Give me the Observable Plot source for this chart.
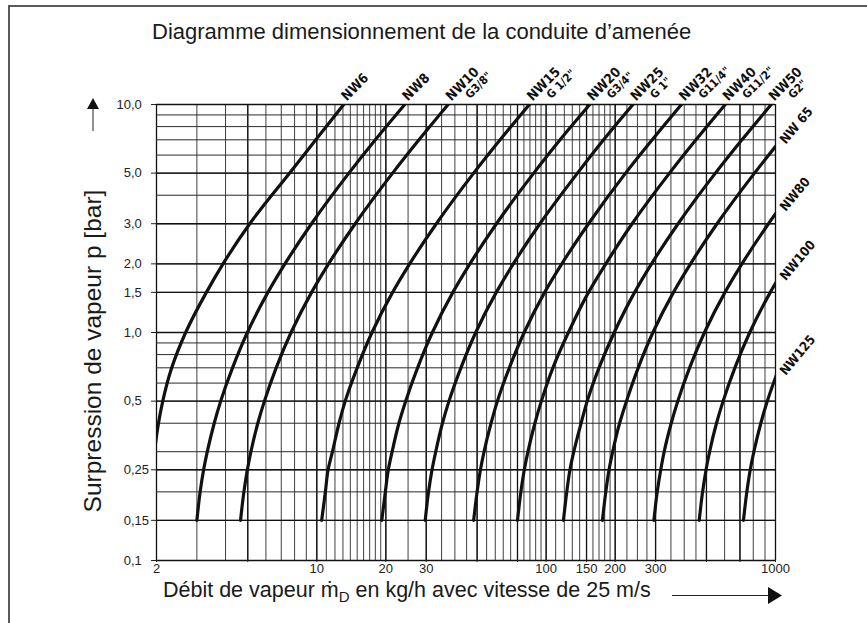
<!DOCTYPE html>
<html>
<head>
<meta charset="utf-8">
<script src="https://cdn.jsdelivr.net/npm/d3@7"></script>
<script src="https://cdn.jsdelivr.net/npm/@observablehq/plot@0.6"></script>
<style>
  html, body { margin: 0; padding: 0; background: #fff; }
  #wrap { position: relative; width: 867px; height: 623px; overflow: hidden;
          font-family: "Liberation Sans", Arial, Helvetica, sans-serif; color: #1a1a1a; }
  #border { position: absolute; left: 8px; top: 5px; width: 900px; height: 700px;
            border-left: 2px solid #5a5a5a; border-top: 2px solid #5a5a5a; }
  #chart { position: absolute; left: 0; top: 0; }
  #notes { position: absolute; left: 0; top: 0; pointer-events: none; }
  #notes text { font-family: "Liberation Sans", Arial, Helvetica, sans-serif; fill: #1a1a1a; }
</style>
</head>
<body>
<div id="wrap">
  <div id="border"></div>
  <div id="chart"></div>
  <svg id="notes" width="867" height="623">
    <text x="152" y="39" font-size="22">Diagramme dimensionnement de la conduite d’amenée</text>
    <text transform="translate(101,351) rotate(-90)" text-anchor="middle" font-size="24.5">Surpression de vapeur p [bar]</text>
    <text x="163" y="597" font-size="21.5">Débit de vapeur ṁ<tspan font-size="15" dy="5">D</tspan><tspan dy="-5"> en kg/h avec vitesse de 25 m/s</tspan></text>
    <line x1="93" y1="108" x2="93" y2="131" stroke="#222" stroke-width="1"/>
    <polygon points="87,109 93,98 99,109" fill="#111"/>
    <line x1="672" y1="595.5" x2="770" y2="595.5" stroke="#222" stroke-width="1.2"/>
    <polygon points="768,587 782,595.5 768,604" fill="#111"/>
  </svg>
</div>
<script>
// Pressure levels (bar, gauge) at which each pipe curve is sampled
const pressureLevels = [0.15, 0.2, 0.25, 0.3, 0.4, 0.5, 0.7, 1, 1.5, 2, 3, 5, 7, 10];

// Steam flow (kg/h) at each pressure level, per nominal width
const flowNW6   = [1.833, 1.876, 1.918, 1.96, 2.04, 2.13, 2.33, 2.68, 3.3, 3.9, 5.1, 7.6, 9.9, 13.1];
const flowNW8   = [3.0, 3.1, 3.21, 3.33, 3.57, 3.81, 4.29, 4.98, 6.12, 7.26, 9.48, 13.8, 18.0, 24.2];
const flowNW10  = [4.65, 4.81, 4.98, 5.16, 5.53, 5.91, 6.65, 7.72, 9.49, 11.25, 14.7, 21.4, 27.9, 37.4];
const flowNW15  = [10.5, 10.9, 11.2, 11.7, 12.5, 13.3, 15.0, 17.4, 21.4, 25.4, 33.2, 48.3, 63.0, 84.5];
const flowNW20  = [19.2, 19.9, 20.5, 21.3, 22.8, 24.4, 27.5, 31.9, 39.2, 46.5, 60.7, 88.3, 115, 155];
const flowNW25  = [29.7, 30.7, 31.8, 33.0, 35.3, 37.7, 42.5, 49.3, 60.6, 71.9, 93.9, 137, 178, 239];
const flowNW32  = [48.3, 50.0, 51.7, 53.6, 57.5, 61.3, 69.1, 80.2, 98.5, 117, 153, 222, 290, 389];
const flowNW40  = [75, 77.6, 80.3, 83.3, 89.3, 95.3, 107, 125, 153, 182, 237, 345, 450, 604];
const flowNW50  = [119, 123, 127, 132, 142, 151, 170, 198, 243, 288, 376, 547, 714, 958];
const flowNW65  = [176, 182, 188, 195, 209, 224, 252, 292, 359, 426, 556, 810, 1056, 1417];
const flowNW80  = [295, 305, 316, 327, 351, 375, 422, 490, 602, 714, 932, 1357, 1770, 2375];
const flowNW100 = [465, 481, 498, 516, 553, 591, 665, 772, 949, 1125, 1469, 2139, 2790, 3743];
const flowNW125 = [725, 750, 776, 805, 863, 921, 1037, 1204, 1479, 1755, 2291, 3335, 4350, 5836];

const sizeNames = ["NW6", "NW8", "NW10", "NW15", "NW20", "NW25", "NW32", "NW40", "NW50",
                   "NW 65", "NW80", "NW100", "NW125"];
const sizeFlows = [flowNW6, flowNW8, flowNW10, flowNW15, flowNW20, flowNW25, flowNW32,
                   flowNW40, flowNW50, flowNW65, flowNW80, flowNW100, flowNW125];

// Thread sizes written under the nominal widths that end on the top edge
const topSizes   = ["NW6", "NW8", "NW10", "NW15", "NW20", "NW25", "NW32", "NW40", "NW50"];
const topThreads = ["", "", "G3/8\"", "G 1/2\"", "G3/4\"", "G 1\"", "G11/4\"", "G11/2\"", "G2\""];

// Widths leaving through the right edge, and the pressure where they leave
const sideSizes = ["NW 65", "NW80", "NW100", "NW125"];
const sideExitPressure = [6.5, 3.3, 1.64, 0.63];

// Axis ticks and grid
const xTicks = [2, 5, 10, 20, 30, 50, 75, 100, 150, 200, 300, 500, 700, 1000];
const yTicks = [0.1, 0.15, 0.25, 0.5, 1, 1.5, 2, 3, 5, 10];
const yTickLabels = ["0,1", "0,15", "0,25", "0,5", "1,0", "1,5", "2,0", "3,0", "5,0", "10,0"];
const xGrid = [2, 3, 4, 5, 6, 7, 8, 9, 10, 11, 12, 13, 14, 15, 16, 17, 18, 19, 20, 25, 30, 35, 40, 45,
               50, 55, 60, 65, 70, 75, 80, 85, 90, 95, 100, 110, 120, 130, 140, 150, 160, 170, 180, 190,
               200, 225, 250, 275, 300, 350, 400, 450, 500, 600, 700, 800, 900, 1000];
const yGrid = [0.1, 0.15, 0.2, 0.25, 0.3, 0.4, 0.5, 0.6, 0.7, 0.8, 0.9, 1, 1.5, 2, 3, 4, 5, 6, 7, 8, 9, 10];

// Long-format rows for the line mark
const rows = sizeNames.flatMap((name, i) =>
  pressureLevels.map((p, j) => ({size: name, p, flow: sizeFlows[i][j]})));

const topLabelRows = topSizes.map((name, i) => ({
  name, thread: topThreads[i], flow: sizeFlows[sizeNames.indexOf(name)].at(-1), p: 10
}));
const sideLabelRows = sideSizes.map((name, i) => ({name, flow: 1000, p: sideExitPressure[i]}));

// Pressure tick labels are aligned on their decimal comma
const yTickRows = yTicks.map((p, i) => {
  const [whole, frac] = yTickLabels[i].split(",");
  return {p, whole: whole + ",", frac};
});

const labelFont = "'Liberation Sans Narrow', 'DejaVu Sans Condensed', 'Arial Narrow', sans-serif";

const chart = Plot.plot({
  width: 867,
  height: 623,
  marginLeft: 156,
  marginRight: 92,
  marginTop: 104,
  marginBottom: 63,
  x: {type: "log", domain: [2, 1000]},
  y: {type: "log", domain: [0.1, 10]},
  style: {fontFamily: "'Liberation Sans', Arial, sans-serif", fontSize: "13px", color: "#222",
          background: "transparent", overflow: "visible"},
  marks: [
    Plot.ruleX(xGrid, {stroke: "#2a2a2a", strokeWidth: 0.9}),
    Plot.ruleX(xTicks, {stroke: "#111", strokeWidth: 1.3}),
    Plot.ruleY(yGrid, {stroke: "#2a2a2a", strokeWidth: 1}),
    Plot.ruleY(yTicks, {stroke: "#111", strokeWidth: 1.4}),
    Plot.axisX({ticks: xTicks, tickFormat: d => String(d), tickSize: 2, tickPadding: 1,
                label: null, fontSize: 13}),
    Plot.axisY({ticks: yTicks, tickFormat: () => "", tickSize: 5, label: null}),
    Plot.text(yTickRows, {y: "p", text: "whole", frameAnchor: "left", textAnchor: "end",
                          dx: -22, fontSize: 13, fill: "#222"}),
    Plot.text(yTickRows, {y: "p", text: "frac", frameAnchor: "left", textAnchor: "start",
                          dx: -22, fontSize: 13, fill: "#222"}),
    Plot.line(rows, {x: "flow", y: "p", z: "size", curve: "monotone-y",
                     stroke: "#111", strokeWidth: 3.2, clip: true}),
    Plot.text(topLabelRows, {x: "flow", y: "p", text: "name", rotate: -45, textAnchor: "start",
                             lineAnchor: "bottom", dx: 3, dy: -3, fontWeight: "bold",
                             fontSize: 13.5, fontFamily: labelFont, fill: "#111",
                             ariaLabel: "size label"}),
    Plot.text(topLabelRows, {x: "flow", y: "p", text: "thread", rotate: -45, textAnchor: "start",
                             lineAnchor: "top", dx: 16, dy: -11, fontWeight: "bold",
                             fontSize: 11.5, fontFamily: labelFont, fill: "#111"}),
    Plot.text(sideLabelRows, {x: "flow", y: "p", text: "name", rotate: -50, textAnchor: "start",
                              lineAnchor: "middle", dx: 7, dy: -5, fontWeight: "bold",
                              fontSize: 13, fontFamily: labelFont, fill: "#111"})
  ]
});

d3.select(chart).selectAll('g[aria-label="size label"] text').attr("text-decoration", "underline");
document.getElementById("chart").appendChild(chart);
</script>
</body>
</html>
